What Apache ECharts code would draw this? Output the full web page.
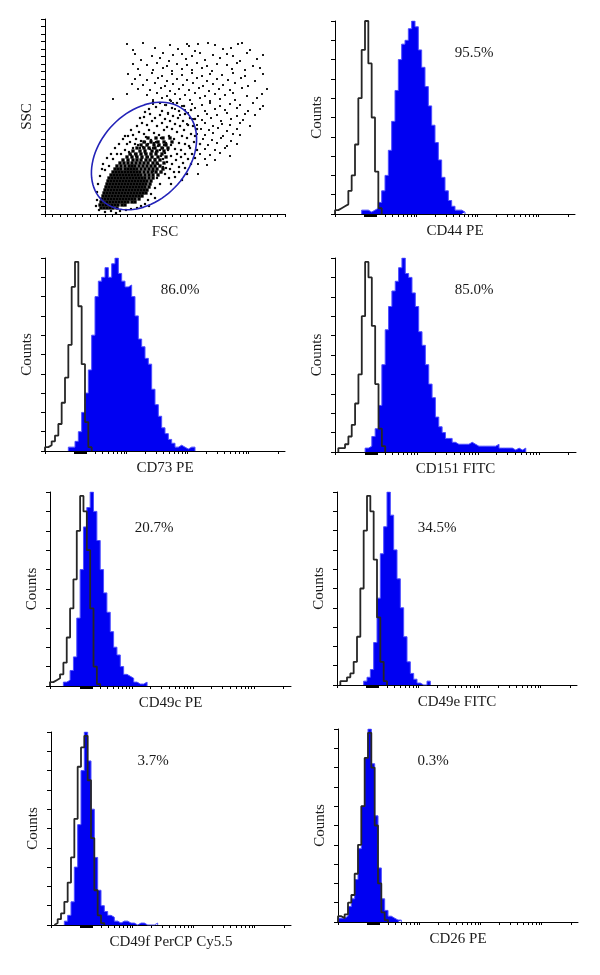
<!DOCTYPE html>
<html><head><meta charset="utf-8">
<script src="https://cdn.jsdelivr.net/npm/echarts@6/dist/echarts.min.js"></script>
<style>html,body{margin:0;padding:0;background:#fff}#c{width:600px;height:975px}</style>
</head><body><div id="c"></div>
<script>
// ===== DATA =====
const panelNames = ['CD44 PE','CD73 PE','CD151 FITC','CD49c PE','CD49e FITC','CD49f PerCP Cy5.5','CD26 PE'];
const positivePct = ['95.5%','86.0%','85.0%','20.7%','34.5%','3.7%','0.3%'];

// histogram counts per channel (72 log channels, % of peak) — isotype control and marker
const cd44Iso = [2,3,4,5,12,20,36,60,85,100,78,50,22,3];
const cd44Pos = [0,0,0,0,0,0,0,0,2,2,1,2,3,6,12,20,33,48,64,80,88,90,96,100,97,85,76,66,56,46,37,28,19,12,7,4,2,2,1];
const cd73Iso = [2,3,5,8,14,25,38,55,85,98,75,45,15,2];
const cd73Pos = [0,0,0,0,0,0,0,2,2,5,10,20,30,42,60,80,88,90,95,90,97,100,92,88,85,86,80,70,58,54,48,45,32,24,18,12,9,6,4,2,3,2,1,2,2];
const cd151Iso = [0,2,2,4,8,14,25,40,70,98,90,65,35,12,3];
const cd151Pos = [0,0,0,0,0,0,0,0,0,2,3,8,12,24,45,63,75,83,88,95,100,92,90,82,75,62,55,45,35,28,18,13,10,7,7,5,4,4,4,4,5,4,3,3,3,3,3,3,4,2,2,2,2,1,2,1,2];
const cd49cIso = [2,3,4,6,12,25,40,55,80,98,90,70,40,10,1];
const cd49cPos = [0,0,0,0,2,3,8,15,35,60,82,92,100,90,75,60,48,38,28,20,16,10,6,5,4,2,1,1,2];
const cd49eIso = [0,2,2,4,6,12,25,50,80,98,90,65,35,12,2];
const cd49ePos = [0,0,0,0,0,0,0,0,2,4,8,22,45,68,82,100,88,70,55,40,25,12,6,3,1,0,0,2];
const cd49fIso = [0,1,3,6,12,22,35,55,82,92,98,75,45,18,5,1];
const cd49fPos = [0,0,0,0,2,5,12,30,52,80,100,85,60,35,18,10,7,5,4,2,1,2,2,1,1,0,1,1,0,0,0,1];
const cd26Iso = [3,2,4,10,14,25,40,60,85,98,80,50,20,5,1];
const cd26Pos = [2,2,3,8,12,22,38,60,85,100,82,55,28,12,6,3,2,1,1];

// log-axis tick intensities and channel mapping
const logTickValues = [3,4,5,6,7,8,9,10,20,30,40,50,60,70,80,90,100,200,300,400,500,600,700,800,900,1000,3000];
const LOG0 = 6.2, CH_PER_DECADE = 18.3, N_CH = 72;
const markerBand = [8.9, 12.7];

// FSC/SSC scatter (axis units 0-240 / 0-195)
const gate = [99, 58, 61, 44, 47]; // centre FSC, centre SSC, semi-axis a, semi-axis b, tilt (deg)
const coreRows = [
 [6,[56,59,62,65,68,72]],
 [9,[55,58,61,64,67,70,73,77,80]],
 [12,[56,59,62,65,68,71,74,77,80,83,87,90]],
 [15,[57,60,63,66,69,72,75,78,81,84,87,90,94]],
 [18,[58,61,64,67,70,73,76,79,82,85,88,91,94,97]],
 [21,[59,62,65,68,71,74,77,80,83,86,89,92,95,98,101]],
 [24,[60,63,66,69,72,75,78,81,84,87,90,93,96,99,102]],
 [27,[61,64,67,70,73,76,79,82,85,88,91,94,97,100,104]],
 [30,[62,65,68,71,74,77,80,83,86,89,92,95,98,101,105]],
 [33,[63,66,69,72,75,78,81,84,87,90,93,96,99,102,106]],
 [36,[64,67,70,73,76,79,82,85,88,91,94,97,100,104,108]],
 [39,[66,69,72,75,78,81,84,87,90,93,96,100,104,108,113]],
 [42,[68,71,74,77,80,83,86,89,92,95,99,103,107,111,116]],
 [45,[70,73,76,80,83,86,89,92,96,100,104,108,112,118]],
 [48,[72,76,80,84,87,90,94,98,102,106,110,115]],
 [51,[75,79,83,87,91,95,99,103,108,112,119]],
 [54,[78,83,88,92,96,101,105,110,115]],
 [57,[82,87,92,97,102,107,113,121]],
 [60,[85,91,96,101,106,111,117]],
 [63,[88,95,100,107,112,119]],
 [66,[92,99,104,110,117,123]],
 [69,[96,102,109,114,121]],
 [72,[99,106,113,119,127]],
 [76,[103,111,118,125]]
];
const midXY = [84,62,90,60,95,63,100,61,106,60,111,62,116,58,120,61,88,66,93,69,98,67,103,70,108,66,113,68,118,66,123,64,126,58,80,64,76,60,85,72,91,75,96,73,101,77,106,74,111,72,116,76,121,71,126,69,130,65,132,60,82,70,88,79,94,82,99,80,104,84,109,81,114,79,119,84,124,78,129,75,134,71,136,64,92,88,97,91,102,89,107,93,112,88,117,91,122,87,127,85,132,82,137,78,140,70,99,97,105,100,110,96,115,99,120,95,125,93,130,90,135,88,139,84,142,76,144,68,104,105,111,107,117,103,123,101,128,98,133,96,138,93,143,89,146,80,115,111,121,109,127,106,134,103,140,100,145,96,148,88,150,78,125,114,132,111,139,108,146,104,150,95,152,85,118,55,122,52,127,50,131,54,136,57,140,60,125,45,129,42,134,47,138,51,143,55,147,60,145,66,149,72,120,40,124,36,118,47,113,50,112,36,115,30,110,26,106,20,103,14,100,10,96,8,92,6,86,5,81,4,75,3,108,43,116,42,121,46,130,37,126,30,134,42,140,46,110,16,104,8,58,50,62,56,66,60,70,66,74,70,78,75,83,78,60,44,55,38,53,30,52,22,52,14,51,8,54,4,60,2,66,3,71,1,64,48,68,55,72,60,57,45,152,64,155,70,142,40,137,34,146,50,150,56,86,84,80,78,95,96,100,102,108,112,91,58,97,56,103,57,110,55,86,59,115,64,105,65,95,66,119,69,109,71,100,72,90,70];
const outerXY = [82,170,98,171,125,169,142,170,144,168,153,170,163,171,170,169,193,170,197,171,
88,164,110,166,133,165,150,163,178,165,186,166,205,164,
90,160,107,158,118,161,128,159,137,160,147,158,155,161,168,159,182,160,188,158,202,161,218,159,
96,154,115,156,124,153,141,155,160,154,175,156,195,153,212,155,
88,150,102,149,112,151,122,148,132,150,142,149,152,151,162,148,172,150,182,149,192,151,208,148,
93,145,108,144,118,146,127,143,137,145,147,144,157,146,167,143,187,145,200,144,215,146,
83,140,95,139,107,141,117,138,127,140,137,139,147,141,157,138,165,140,177,139,188,141,200,138,218,140,
90,135,102,134,113,136,122,133,132,135,142,134,152,136,162,133,172,135,183,134,196,136,210,133,
87,130,98,129,110,131,120,128,128,130,138,129,148,131,158,128,168,130,178,129,190,131,203,128,
93,125,105,124,116,126,125,123,134,125,144,124,154,126,164,123,174,125,185,124,197,126,222,125,
82,120,102,119,112,121,122,118,130,120,140,119,150,121,160,118,170,120,180,119,188,121,202,118,217,120,
68,115,108,114,117,116,126,113,135,115,145,114,155,116,165,113,175,115,190,114,212,116,
108,110,120,109,128,111,137,108,147,110,157,109,165,111,175,108,185,110,195,109,208,111,218,108,
130,105,140,104,150,106,160,103,170,105,180,104,192,106,203,103,215,105,
123,100,135,99,143,101,153,98,162,100,172,99,182,101,192,98,200,100,210,99,
148,95,157,94,166,96,176,93,186,95,198,94,
142,90,152,89,160,91,168,88,177,90,185,89,195,91,205,88,
156,85,164,84,173,86,182,83,192,85,
152,80,160,79,168,81,178,78,188,80,195,79,
158,75,167,74,176,76,186,73,
155,70,163,69,172,71,182,68,192,70,
160,65,170,64,180,66,
155,60,165,59,175,61,185,58,
160,55,170,54,153,50,162,49,153,40];

// ===== LAYOUT =====
const FONT = '"Liberation Serif", "Times New Roman", serif';
const grids = [
 [45,19,240,195],
 [335,21,240,193],
 [45,258,240,193],
 [335,258,241,194],
 [50,492,241,194],
 [337,492,240,193],
 [51,732,240,193],
 [338,729,240,193]
];
const pctPos = [[474,53],[180,290],[474,290],[154,528],[437,528],[153,761],[433,761]];
const histData = [[cd44Iso,cd44Pos],[cd73Iso,cd73Pos],[cd151Iso,cd151Pos],[cd49cIso,cd49cPos],[cd49eIso,cd49ePos],[cd49fIso,cd49fPos],[cd26Iso,cd26Pos]];

function pairs(flat){const o=[];for(let i=0;i<flat.length;i+=2)o.push([flat[i],flat[i+1]]);return o;}
function stepData(arr){
  const i0 = arr.findIndex(v=>v>0);
  const d=[[i0,0]];
  for(let i=i0;i<arr.length;i++) d.push([i,arr[i]]);
  d.push([arr.length,0]);
  return d;
}
const histTicks = [0].concat(logTickValues.map(v=>LOG0+CH_PER_DECADE*Math.log10(v)));
for(let c=markerBand[0];c<=markerBand[1]+1e-9;c+=0.3) histTicks.push(c);

const nameStyle = {fontFamily:FONT, fontSize:15, color:'#1a1a1a'};
const axLine = {show:true, onZero:false, lineStyle:{color:'#000', width:1}};

const gridOpt=[], xAxes=[], yAxes=[], series=[], graphics=[];
grids.forEach((g,k)=>{
  gridOpt.push({left:g[0], top:g[1], width:g[2], height:g[3], containLabel:false, outerBoundsMode:'none'});
});

// scatter panel
xAxes.push({gridIndex:0,type:'value',min:0,max:240,interval:7.5,axisLine:axLine,
  axisTick:{show:true,length:3,lineStyle:{color:'#000',width:1}},axisLabel:{show:false},splitLine:{show:false},
  name:'FSC',nameLocation:'middle',nameGap:11,nameTextStyle:nameStyle});
yAxes.push({gridIndex:0,type:'value',min:0,max:195,interval:7.5,axisLine:axLine,
  axisTick:{show:true,length:4,lineStyle:{color:'#000',width:1}},axisLabel:{show:false},splitLine:{show:false},
  name:'SSC',nameLocation:'middle',nameGap:10,nameRotate:90,nameTextStyle:nameStyle});
const coreData=[]; coreRows.forEach(r=>r[1].forEach(x=>coreData.push([x,r[0]])));
series.push({type:'scatter',xAxisIndex:0,yAxisIndex:0,data:coreData,symbol:'rect',symbolSize:3.3,itemStyle:{color:'#000',opacity:1},silent:true});
series.push({type:'scatter',xAxisIndex:0,yAxisIndex:0,data:pairs(midXY),symbol:'rect',symbolSize:2.2,itemStyle:{color:'#0a0a0a',opacity:1},silent:true});
series.push({type:'scatter',xAxisIndex:0,yAxisIndex:0,data:pairs(outerXY),symbol:'rect',symbolSize:2,itemStyle:{color:'#1a1a1a',opacity:1},silent:true});
const ell=[]; {const [cx,cy,a,b,deg]=gate; const th=deg*Math.PI/180;
  for(let i=0;i<=90;i++){const t=i/90*2*Math.PI; ell.push([cx+a*Math.cos(t)*Math.cos(th)-b*Math.sin(t)*Math.sin(th), cy+a*Math.cos(t)*Math.sin(th)+b*Math.sin(t)*Math.cos(th)]);}}
series.push({type:'line',xAxisIndex:0,yAxisIndex:0,data:ell,symbol:'none',smooth:false,lineStyle:{color:'#2323b8',width:1.6},silent:true,z:5});

// histogram panels
histData.forEach((h,j)=>{
  const k=j+1;
  xAxes.push({gridIndex:k,type:'value',min:0,max:N_CH,axisLine:axLine,
    axisTick:{show:true,length:3,customValues:histTicks,lineStyle:{color:'#000',width:1}},
    axisLabel:{show:false},splitLine:{show:false},
    name:panelNames[j],nameLocation:'middle',nameGap:10,nameTextStyle:nameStyle});
  yAxes.push({gridIndex:k,type:'value',min:0,max:100,interval:10,axisLine:axLine,
    axisTick:{show:true,length:4,lineStyle:{color:'#000',width:1}},axisLabel:{show:false},splitLine:{show:false},
    name:'Counts',nameLocation:'middle',nameGap:10,nameRotate:90,nameTextStyle:nameStyle});
  series.push({type:'line',xAxisIndex:k,yAxisIndex:k,data:stepData(h[1]),step:'end',symbol:'none',
    lineStyle:{color:'#4f4fff',width:1},areaStyle:{color:'#0000f2',opacity:1},silent:true,z:2});
  series.push({type:'line',xAxisIndex:k,yAxisIndex:k,data:stepData(h[0]),step:'end',symbol:'none',
    lineStyle:{color:'#262626',width:1.8},silent:true,z:3});
  graphics.push({type:'text',x:pctPos[j][0],y:pctPos[j][1],silent:true,
    style:{text:positivePct[j],font:'15px '+FONT,fill:'#1a1a1a',align:'center',verticalAlign:'middle',textAlign:'center',textVerticalAlign:'middle'}});
});

const chart = echarts.init(document.getElementById('c'), null, {renderer:'canvas'});
chart.setOption({
  animation:false,
  backgroundColor:'#fff',
  textStyle:{fontFamily:FONT},
  grid:gridOpt, xAxis:xAxes, yAxis:yAxes, series:series, graphic:graphics
});
</script></body></html>
